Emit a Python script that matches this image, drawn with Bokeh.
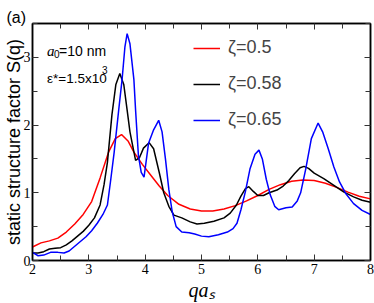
from bokeh.plotting import figure
from bokeh.models import Range1d, FixedTicker, LinearAxis, Label, Legend, LegendItem, Title
from bokeh.embed import file_html
from bokeh.resources import INLINE

# ---- data ----
red_x = [2.0, 2.15, 2.3, 2.45, 2.6, 2.75, 2.9, 3.05, 3.2, 3.35, 3.47, 3.58, 3.7, 3.8, 3.95,
         4.1, 4.25, 4.4, 4.6, 4.8, 5.0, 5.2, 5.4, 5.6, 5.8, 6.0, 6.2, 6.4, 6.6, 6.8, 7.0,
         7.2, 7.4, 7.6, 7.8, 8.0]
red_y = [0.20, 0.26, 0.29, 0.33, 0.42, 0.54, 0.68, 0.87, 1.22, 1.60, 1.80, 1.86, 1.76, 1.60, 1.42,
         1.26, 1.10, 0.96, 0.83, 0.76, 0.73, 0.73, 0.76, 0.81, 0.88, 0.96, 1.05, 1.12, 1.17, 1.19, 1.18,
         1.14, 1.08, 1.01, 0.95, 0.91]

black_x = [2.0, 2.1, 2.2, 2.3, 2.4, 2.5, 2.6, 2.7, 2.8, 2.9, 3.0, 3.1, 3.2, 3.27, 3.33, 3.41,
           3.48, 3.55, 3.62, 3.68, 3.73, 3.77, 3.83, 3.9, 3.97, 4.07, 4.15, 4.25, 4.33, 4.42,
           4.51, 4.65, 4.8, 4.92, 5.05, 5.22, 5.4, 5.51, 5.62, 5.7, 5.78, 5.84, 5.92, 6.0,
           6.1, 6.2, 6.34, 6.45, 6.55, 6.65, 6.75, 6.82, 6.9, 7.0, 7.17, 7.35, 7.53, 7.7,
           7.85, 8.0]
black_y = [0.11, 0.11, 0.13, 0.17, 0.18, 0.19, 0.23, 0.29, 0.36, 0.43, 0.52, 0.63, 0.82, 1.12, 1.45, 2.15,
           2.60, 2.76, 2.60, 2.22, 1.90, 1.73, 1.48, 1.52, 1.66, 1.74, 1.65, 1.30, 1.00, 0.80,
           0.67, 0.63, 0.57, 0.54, 0.55, 0.58, 0.63, 0.70, 0.82, 0.95, 1.06, 1.09, 1.02, 0.96,
           0.96, 1.00, 1.04, 1.10, 1.18, 1.28, 1.37, 1.39, 1.36, 1.29, 1.21, 1.11, 1.01, 0.94,
           0.89, 0.86]

blue_x = [2.0, 2.1, 2.2, 2.32, 2.45, 2.56, 2.65, 2.75, 2.85, 2.95, 3.05, 3.15, 3.25, 3.33, 3.39,
          3.45, 3.53, 3.59, 3.64, 3.68, 3.73, 3.8, 3.83, 3.88, 3.93, 3.98, 4.06, 4.15, 4.24,
          4.3, 4.36, 4.42, 4.48, 4.55, 4.65, 4.78, 4.88, 5.0, 5.13, 5.3, 5.46, 5.56, 5.63,
          5.7, 5.78, 5.86, 5.95, 6.02, 6.08, 6.15, 6.22, 6.3, 6.37, 6.5, 6.61, 6.7, 6.76,
          6.85, 6.95, 7.07, 7.15, 7.25, 7.35, 7.45, 7.56, 7.7, 7.85, 8.0]
blue_y = [0.12, 0.07, 0.08, 0.12, 0.12, 0.11, 0.14, 0.21, 0.28, 0.35, 0.44, 0.55, 0.68, 0.82, 1.20,
          1.60, 2.22, 2.67, 3.15, 3.35, 3.20, 2.67, 2.22, 1.55, 1.30, 1.23, 1.73, 1.93, 2.07,
          1.90, 1.50, 1.05, 0.72, 0.50, 0.42, 0.41, 0.39, 0.36, 0.35, 0.38, 0.42, 0.47, 0.55,
          0.75, 1.02, 1.35, 1.57, 1.63, 1.50, 1.20, 0.97, 0.80, 0.75, 0.78, 0.79, 0.88, 1.00,
          1.35, 1.80, 2.03, 1.90, 1.65, 1.38, 1.16, 0.99, 0.84, 0.74, 0.68]

series_labels = ["ζ=0.5", "ζ=0.58", "ζ=0.65"]
x_ticks = [2, 3, 4, 5, 6, 7, 8]
x_minor = [2.5, 3.5, 4.5, 5.5, 6.5, 7.5]
y_ticks = [0, 1, 2, 3]
y_minor = [0.5, 1.5, 2.5, 3.5]

X0, X1, Y0, Y1 = 2, 8, 0, 3.5
FL, FR, FT, FB = 32, 370, 23, 260  # intended frame position in the picture

def dx(px):
    return X0 + (px - FL) * (X1 - X0) / (FR - FL)

def dy(py):
    return Y0 + (FB - py) * (Y1 - Y0) / (FB - FT)

def setp(model, name, val):
    if name in model.properties():
        setattr(model, name, val)

p = figure(width=374, height=303, x_range=Range1d(X0, X1), y_range=Range1d(Y0, Y1),
           output_backend="svg", toolbar_location=None,
           min_border_left=32, min_border_right=4, min_border_top=23, min_border_bottom=43)
p.grid.visible = False
p.outline_line_color = "black"
p.outline_line_width = 1.5
p.background_fill_color = "white"
p.border_fill_color = "white"

def style_axis(ax, ticks, minor, labels=True):
    ax.ticker = FixedTicker(ticks=ticks, minor_ticks=minor)
    ax.major_tick_in = 6
    ax.major_tick_out = 0
    ax.minor_tick_in = 5
    ax.minor_tick_out = 0
    ax.axis_line_width = 1.5
    ax.major_tick_line_width = 1
    ax.minor_tick_line_width = 1
    ax.axis_line_color = "black"
    ax.major_tick_line_color = "#333333"
    ax.minor_tick_line_color = "#333333"
    if labels:
        ax.major_label_text_font = "Liberation Serif"
        ax.major_label_text_font_size = "14px"
        ax.major_label_text_color = "black"
        ax.major_label_standoff = 2
    else:
        ax.major_label_overrides = {t: "" for t in ticks}
        ax.major_label_text_font_size = "1px"
        ax.major_label_standoff = 0
        setp(ax, "major_label_text_line_height", 0.5)

xb = p.xaxis[0]
yl = p.yaxis[0]
style_axis(xb, x_ticks, x_minor)
style_axis(yl, y_ticks, y_minor)
xb.major_label_standoff = 3

yl.axis_label = "static structure factor S(q)"
yl.axis_label_text_font = "Liberation Sans"
yl.axis_label_text_font_style = "normal"
yl.axis_label_text_font_size = "18px"
yl.axis_label_text_color = "black"
yl.axis_label_standoff = -3
setp(yl, "axis_label_text_line_height", 1.0)

xb.axis_label = "qaₛ"
xb.axis_label_text_font = "Liberation Serif"
xb.axis_label_text_font_style = "italic"
xb.axis_label_text_font_size = "20px"
xb.axis_label_text_color = "black"
xb.axis_label_standoff = 2

top = LinearAxis()
right = LinearAxis()
style_axis(top, x_ticks, x_minor, labels=False)
style_axis(right, y_ticks, y_minor, labels=False)
p.add_layout(top, "above")
p.add_layout(right, "right")

ttl = Title(text="(a)", align="left", offset=-26, text_font="Liberation Sans",
            text_font_size="16px", text_font_style="normal", text_color="black", standoff=-4)
setp(ttl, "text_line_height", 1.0)
p.add_layout(ttl, "above")

r_red = p.line(red_x, red_y, line_color="#ff0000", line_width=1.5)
r_black = p.line(black_x, black_y, line_color="#000000", line_width=1.5)
r_blue = p.line(blue_x, blue_y, line_color="#0000ff", line_width=1.5)

legend = Legend(items=[LegendItem(label=series_labels[0], renderers=[r_red]),
                       LegendItem(label=series_labels[1], renderers=[r_black]),
                       LegendItem(label=series_labels[2], renderers=[r_blue])],
                location=(161, 130), border_line_color=None, background_fill_alpha=0,
                padding=0, margin=0, glyph_width=27, glyph_height=20, label_height=20,
                spacing=15, label_standoff=8, label_text_font="Liberation Sans",
                label_text_font_size="18px")
p.add_layout(legend)

def lab(px, py, text, size, font="Liberation Sans", style="normal"):
    p.add_layout(Label(x=dx(px), y=dy(py), text=text, text_font=font, text_font_size=size,
                       text_font_style=style, text_align="left", text_baseline="alphabetic",
                       text_color="black"))

lab(46.5, 50, "a", "15px", font="Liberation Serif", style="italic")
lab(53.5, 53.5, "0", "10px")
lab(58.5, 50, "=10 nm", "14px")
lab(46.5, 78, "ε*=1.5x10", "13.5px")
lab(101.5, 69, "3", "10px")

open("out.html", "w").write(file_html(p, INLINE))
